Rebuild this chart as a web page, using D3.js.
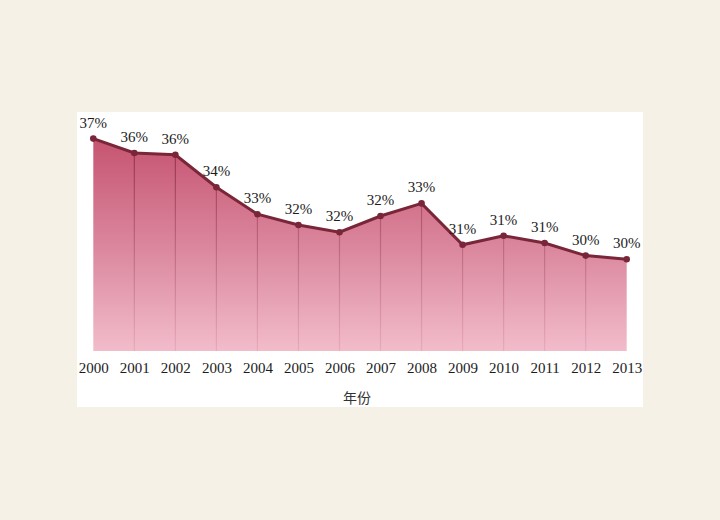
<!DOCTYPE html>
<html lang="zh">
<head>
<meta charset="utf-8">
<title>年份</title>
<script src="https://d3js.org/d3.v7.min.js"></script>
<style>
body { margin: 0; background: #f5f1e7; }
svg { display: block; }
.axis path, .axis line { display: none; }
.axis text { font-family: "Liberation Serif", "DejaVu Serif", serif; font-size: 15px; fill: #1c1c1c; }
.val { font-family: "Liberation Serif", "DejaVu Serif", serif; font-size: 15px; fill: #1c1c1c; text-anchor: middle; }
</style>
</head>
<body>
<script>

// data
var years = ["2000","2001","2002","2003","2004","2005","2006","2007","2008","2009","2010","2011","2012","2013"];
var values = [36.8, 36.0, 35.9, 34.1, 32.6, 32.0, 31.6, 32.5, 33.2, 30.9, 31.4, 31.0, 30.3, 30.1];
var valueLabels = ["37%","36%","36%","34%","33%","32%","32%","32%","33%","31%","31%","31%","30%","30%"];

var W = 720, H = 520;

var svg = d3.select("body").append("svg")
    .attr("width", W)
    .attr("height", H);

// white panel
svg.append("rect")
    .attr("x", 77).attr("y", 112)
    .attr("width", 566).attr("height", 295)
    .attr("fill", "#ffffff");

var x = d3.scalePoint().domain(years).range([93.3, 626.7]);
var y = d3.scaleLinear().domain([25, 37]).range([351, 135]);

var data = years.map(function(d, i) { return {year: d, v: values[i], label: valueLabels[i]}; });

var defs = svg.append("defs");
var grad = defs.append("linearGradient")
    .attr("id", "areaGrad")
    .attr("gradientUnits", "userSpaceOnUse")
    .attr("x1", 0).attr("y1", y(37)).attr("x2", 0).attr("y2", y(25));
grad.append("stop").attr("offset", "0%").attr("stop-color", "#c5526f");
grad.append("stop").attr("offset", "55%").attr("stop-color", "#dc8aa0");
grad.append("stop").attr("offset", "100%").attr("stop-color", "#f2bccb");

var gradLine = defs.append("linearGradient")
    .attr("id", "dropGrad")
    .attr("gradientUnits", "userSpaceOnUse")
    .attr("x1", 0).attr("y1", y(37)).attr("x2", 0).attr("y2", y(25));
gradLine.append("stop").attr("offset", "0%").attr("stop-color", "#8a2a44").attr("stop-opacity", 0.95);
gradLine.append("stop").attr("offset", "100%").attr("stop-color", "#c7778d").attr("stop-opacity", 0.25);

var area = d3.area()
    .x(function(d) { return x(d.year); })
    .y0(y(25))
    .y1(function(d) { return y(d.v); });

svg.append("path")
    .datum(data)
    .attr("d", area)
    .attr("fill", "url(#areaGrad)");

// vertical drop lines
svg.selectAll(".drop")
    .data(data.slice(1, data.length - 1))
    .enter().append("line")
    .attr("class", "drop")
    .attr("x1", function(d) { return x(d.year); })
    .attr("x2", function(d) { return x(d.year); })
    .attr("y1", function(d) { return y(d.v); })
    .attr("y2", y(25))
    .attr("stroke", "url(#dropGrad)")
    .attr("stroke-width", 1.2);

var line = d3.line()
    .x(function(d) { return x(d.year); })
    .y(function(d) { return y(d.v); });

svg.append("path")
    .datum(data)
    .attr("d", line)
    .attr("fill", "none")
    .attr("stroke", "#7a2639")
    .attr("stroke-width", 3);

svg.selectAll(".dot")
    .data(data)
    .enter().append("circle")
    .attr("class", "dot")
    .attr("cx", function(d) { return x(d.year); })
    .attr("cy", function(d) { return y(d.v); })
    .attr("r", 3.3)
    .attr("fill", "#7a2639");

svg.selectAll(".val")
    .data(data)
    .enter().append("text")
    .attr("class", "val")
    .attr("x", function(d) { return x(d.year); })
    .attr("y", function(d) { return y(d.v) - 11; })
    .text(function(d) { return d.label; });

// x axis
svg.append("g")
    .attr("class", "axis")
    .attr("transform", "translate(0," + 362 + ")")
    .call(d3.axisBottom(x).tickSize(0).tickPadding(0))
    .selectAll("text")
    .attr("dy", "0.72em");

svg.append("text")
    .attr("x", 357)
    .attr("y", 403)
    .attr("text-anchor", "middle")
    .style("font-family", "'Noto Sans CJK SC', sans-serif")
    .style("font-size", "14px")
    .style("fill", "#333")
    .text("年份");

</script>
</body>
</html>
